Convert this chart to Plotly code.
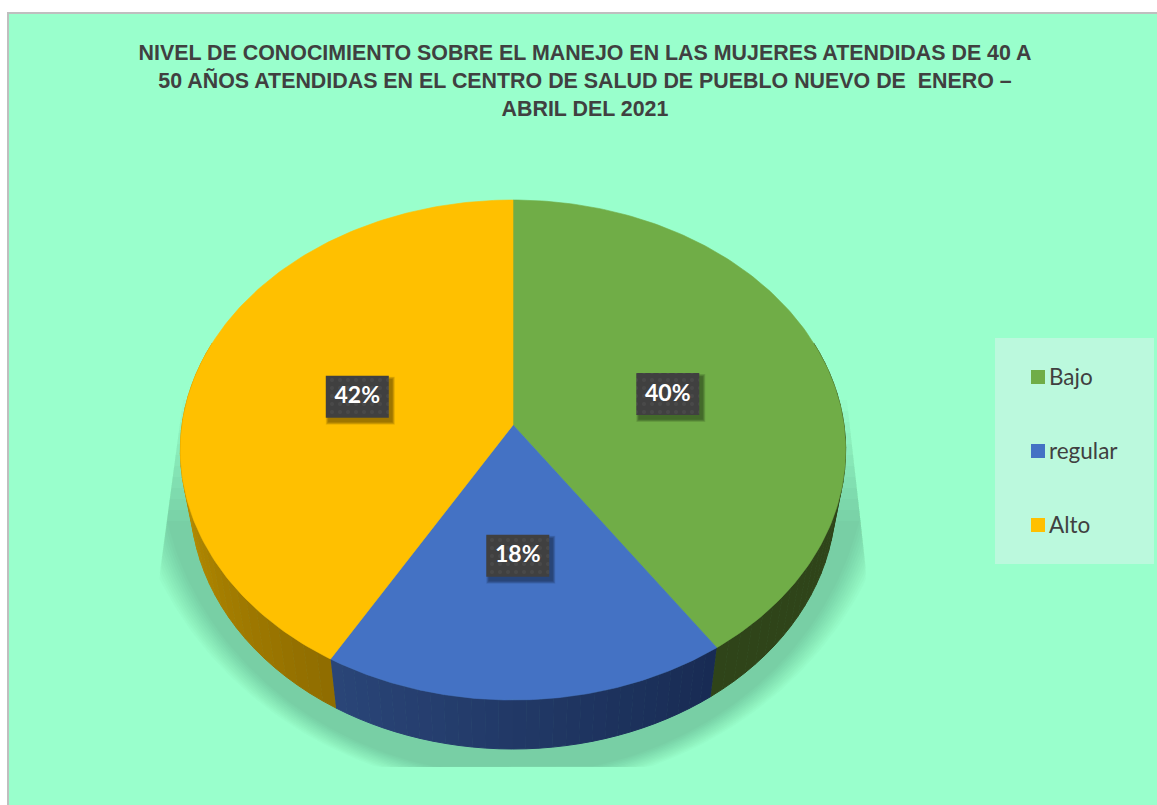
import numpy as np
import plotly.graph_objects as go

# datos
categorias = ["Bajo", "regular", "Alto"]
valores = [40.45, 17.95, 41.6]
colores = ["#70AD47", "#4472C4", "#FFC000"]
# color of the side wall, left and right end of each slice
lado_izq = ["#2F4419", "#2A4578", "#CFA000"]
lado_der = ["#2F4419", "#182B53", "#8F6C00"]
# small nudge of each data label away from the slice middle
nudge_x = [-1, -1.5, 2]
nudge_y = [5, 0.5, 3.5]
titulo = ("NIVEL DE CONOCIMIENTO SOBRE EL MANEJO EN LAS MUJERES ATENDIDAS DE 40 A<br>"
          "50 AÑOS ATENDIDAS EN EL CENTRO DE SALUD DE PUEBLO NUEVO DE \u00a0ENERO –<br>"
          "ABRIL DEL 2021")

W, H = 1157, 805
FONDO = "#99FFCC"
CX, CY = 513, 425
RX, RY, PERSP = 331, 247.5, -0.1
DEPTH, SHRINK = 49, 0.97


def proj(theta, f=1.0):
    # pie circle seen in perspective, theta clockwise from the top
    u = -np.cos(theta) * f
    s = np.sin(theta) * f
    d = 1 + PERSP * u
    return CX + RX * s / d, CY + RY * u / d


def hex2rgb(c):
    return np.array([int(c[i:i + 2], 16) for i in (1, 3, 5)], dtype=float)


def mezcla(a, b, t):
    r, g, bl = hex2rgb(a) * (1 - t) + hex2rgb(b) * t
    return f"rgb({r:.0f},{g:.0f},{bl:.0f})"


def poly(x, y, color, seam=False, **kw):
    linea = dict(width=1, color=color) if seam else dict(width=0)
    return go.Scatter(x=x, y=y, mode="lines", fill="toself", fillcolor=color,
                      line=linea, hoverinfo="skip", showlegend=False, **kw)


def borde_izq(y):
    return np.maximum(183 - 25 * (y - 400) / 185, 158)


def borde_der(y):
    return np.minimum(847 + 21 * (y - 400) / 187, 866)


fig = go.Figure()

# soft shadow under the pie, stacked translucent layers cut by the wedge and the floor
N_SOMBRA = 12
for i in range(N_SOMBRA):
    f = i / (N_SOMBRA - 1)
    t = np.linspace(np.pi, 0, 160)
    sx = 513 + (390 - 35 * f) * np.cos(t)
    sy = (425 + 24 * f) + (365 - 39 * f) * np.sin(t)
    techo = 400 + i * 11
    sy = np.maximum(sy, techo)
    sx = np.clip(sx, borde_izq(sy), borde_der(sy))
    sy = np.minimum(sy, 767)
    fig.add_trace(poly(np.r_[borde_izq(techo), sx, borde_der(techo)], np.r_[techo, sy, techo],
                       "rgba(0,0,0,0.0168)"))

total = sum(valores)
cortes = np.concatenate([[0], np.cumsum(valores)]) / total * 2 * np.pi

# side walls, thin strips for the gradient
for k in range(3):
    a0, a1 = cortes[k], cortes[k + 1]
    a0v, a1v = max(a0, np.radians(70)), min(a1, np.radians(290))
    pasos = np.linspace(a0v, a1v, 31)
    for j in range(30):
        p = pasos[j:j + 2]
        x0, y0 = proj(p)
        x1 = CX + (x0 - CX) * SHRINK
        y1 = y0 + DEPTH
        t = 1 - (j + 0.5) / 30  # angle grows right to left along the lower edge
        fig.add_trace(poly(np.concatenate([x0, x1[::-1]]), np.concatenate([y0, y1[::-1]]),
                           mezcla(lado_izq[k], lado_der[k], t), seam=True))

# top faces
for k in range(3):
    th = np.linspace(cortes[k], cortes[k + 1], 160)
    x, y = proj(th)
    fig.add_trace(go.Scatter(x=np.r_[CX, x, CX], y=np.r_[CY, y, CY], mode="lines", fill="toself",
                             fillcolor=colores[k], line=dict(width=0.6, color=colores[k]),
                             hovertemplate=categorias[k] + "<extra></extra>", showlegend=False))

# data labels
for k in range(3):
    lx, ly = proj((cortes[k] + cortes[k + 1]) / 2, 0.5)
    lx, ly = lx + nudge_x[k], ly + nudge_y[k]
    bx = np.array([lx - 31.5, lx + 31.5, lx + 31.5, lx - 31.5, lx - 31.5])
    by = np.array([ly - 21, ly - 21, ly + 21, ly + 21, ly - 21])
    for e in range(5):
        d = 5 - e
        fig.add_trace(poly(bx + 3 + np.array([-d, d, d, -d, -d]) * 0.6,
                           by + 4 + np.array([-d, -d, d, d, -d]) * 0.6, "rgba(0,0,0,0.09)"))
    fig.add_trace(go.Scatter(x=bx, y=by, mode="lines", fill="toself", line=dict(width=0),
                             fillpattern=dict(shape=".", bgcolor="#404040", fgcolor="#525252",
                                              size=8, solidity=0.2),
                             hoverinfo="skip", showlegend=False))
    fig.add_trace(go.Scatter(x=[lx], y=[ly + 1], mode="text", text=[f"{round(valores[k])}%"],
                             textposition="middle center", hoverinfo="skip", showlegend=False,
                             textfont=dict(family="Lato", size=23, color="white", weight="bold")))

# legend entries
for k in range(3):
    fila = 377 + 74 * k
    fig.add_trace(go.Scatter(x=[1038], y=[fila], mode="markers", hoverinfo="skip", showlegend=False,
                             marker=dict(symbol="square", size=14, color=colores[k], line=dict(width=0))))
    fig.add_trace(go.Scatter(x=[1049], y=[fila + 2], mode="text", text=[categorias[k]],
                             textposition="middle right", hoverinfo="skip", showlegend=False,
                             textfont=dict(family="Lato", size=22.5, color="#404040")))

fig.update_xaxes(range=[0, W], visible=False, fixedrange=True)
fig.update_yaxes(range=[H, 0], visible=False, fixedrange=True)

fig.add_shape(type="rect", x0=8, y0=13, x1=W + 5, y1=H + 5, layer="below",
              fillcolor=FONDO, line=dict(color="#BFBFBF", width=2))
fig.add_shape(type="rect", x0=995, y0=338, x1=1154, y1=564, layer="below",
              fillcolor="#BBF9DD", line=dict(width=0))

fig.update_layout(
    width=W, height=H,
    margin=dict(l=0, r=0, t=0, b=0),
    paper_bgcolor="white",
    plot_bgcolor="rgba(0,0,0,0)",
    showlegend=False,
    title=dict(text=titulo, x=585 / W, xanchor="center", y=1 - 60 / H, yanchor="middle",
               font=dict(family="Liberation Sans", size=21.4, color="#404040", weight="bold")),
)

fig.write_html("out.html", config=dict(displayModeBar=False),
               post_script="document.body.style.margin='0';")
